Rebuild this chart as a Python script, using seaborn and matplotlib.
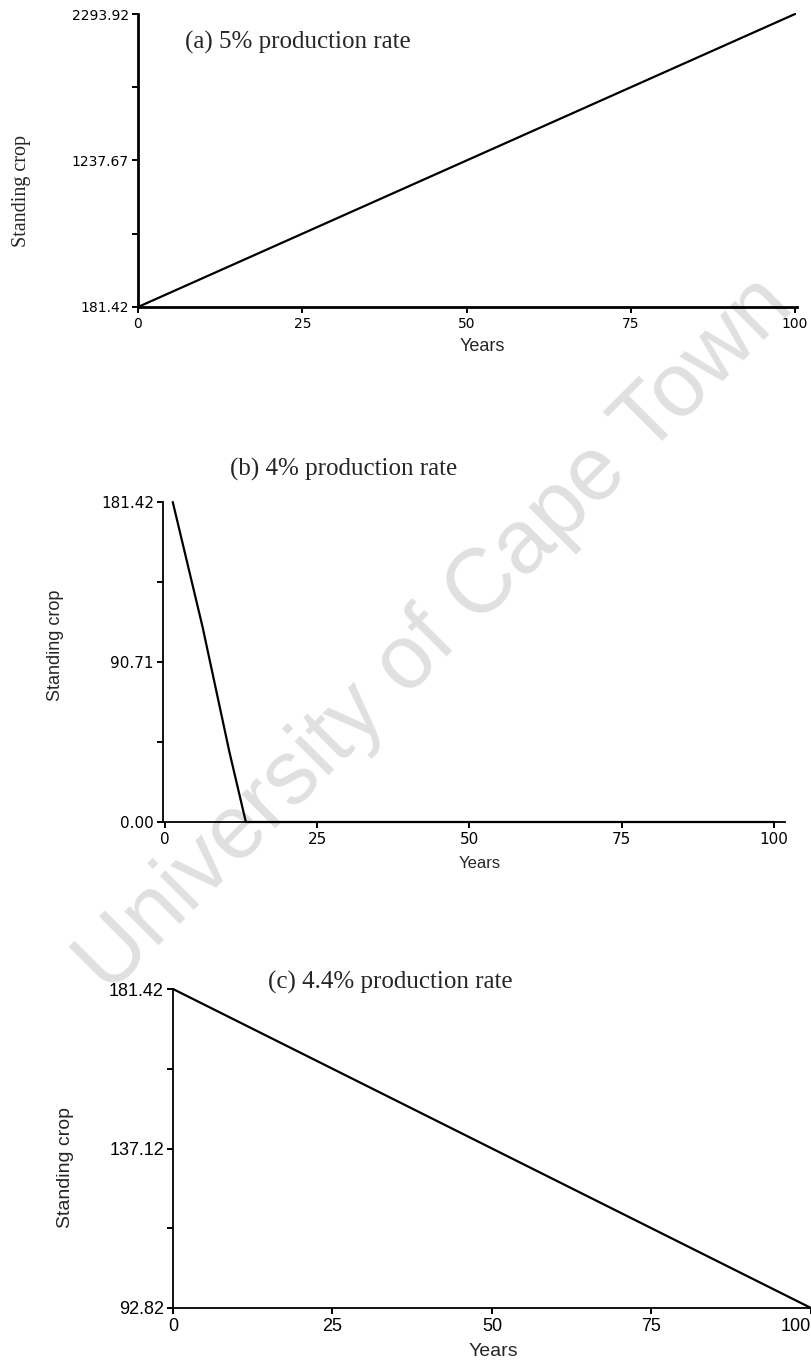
import matplotlib
matplotlib.use("Agg")
import matplotlib.pyplot as plt
import pandas as pd
import seaborn as sns

# Standing crop simulations for three production rates
years_a = [0, 25, 50, 75, 100]
crop_a = [181.42, 709.54, 1237.67, 1765.79, 2293.92]

years_b = [1.3, 6.2, 10.6, 13.3, 25, 50, 75, 100]
crop_b = [181.42, 110.5, 39.7, 0.0, 0.0, 0.0, 0.0, 0.0]

years_c = [0, 25, 50, 75, 100]
crop_c = [181.42, 159.27, 137.12, 114.97, 92.82]

xticks = [0, 25, 50, 75, 100]
yticks_a = [181.42, 1237.67, 2293.92]
yminor_a = [709.54, 1765.79]
ylabels_a = ["181.42", "1237.67", "2293.92"]
yticks_b = [0.0, 90.71, 181.42]
yminor_b = [45.355, 136.065]
ylabels_b = ["0.00", "90.71", "181.42"]
yticks_c = [92.82, 137.12, 181.42]
yminor_c = [114.97, 159.27]
ylabels_c = ["92.82", "137.12", "181.42"]

titles = ["(a) 5% production rate", "(b) 4% production rate", "(c) 4.4% production rate"]

sns.set_style("ticks")
SANS = ["Liberation Sans", "DejaVu Sans"]
WIDE = ["DejaVu Sans"]
SERIF = ["Liberation Serif", "DejaVu Serif"]
plt.rcParams["font.family"] = SANS

W, H = 812, 1368
fig = plt.figure(figsize=(W / 100, H / 100), dpi=100)


def box(left, top, right, bottom):
    return [left / W, 1 - bottom / H, (right - left) / W, (bottom - top) / H]


def fx(px):
    return px / W


def fy(py):
    return 1 - py / H


# faint diagonal watermark behind the panels
fig.text(fx(435), fy(635), "University of Cape Town", rotation=45,
         rotation_mode="anchor", ha="center", va="center", fontsize=65,
         color="#e0e0e0", family=SANS, zorder=-5)

panels = [
    dict(x=years_a, y=crop_a, rect=(138, 14, 797, 307), xlim=(0, 100.3),
         ylim=(181.42, 2293.92), yt=yticks_a, ym=yminor_a, yl=ylabels_a,
         spine=2.0, tick_fs=10, tick_family=WIDE, title_xy=(185, 42),
         ylab_xy=(22, 191), ylab_family=SERIF, ylab_fs=14.5,
         years_xy=(482, 346), years_fs=13),
    dict(x=years_b, y=crop_b, rect=(163, 502, 785, 822), xlim=(-0.3, 101.8),
         ylim=(0.0, 181.42), yt=yticks_b, ym=yminor_b, yl=ylabels_b,
         spine=1.3, tick_fs=11, tick_family=WIDE, title_xy=(230, 469),
         ylab_xy=(56, 645), ylab_family=SANS, ylab_fs=13,
         years_xy=(480, 863), years_fs=12),
    dict(x=years_c, y=crop_c, rect=(173, 989, 811, 1308), xlim=(0, 100),
         ylim=(92.82, 181.42), yt=yticks_c, ym=yminor_c, yl=ylabels_c,
         spine=1.3, tick_fs=13, tick_family=SANS, title_xy=(268, 982),
         ylab_xy=(66, 1168), ylab_family=SANS, ylab_fs=14,
         years_xy=(493, 1352), years_fs=14),
]

for p, title in zip(panels, titles):
    ax = fig.add_axes(box(*p["rect"]))
    ax.set_facecolor("none")
    df = pd.DataFrame({"Years": p["x"], "Standing crop": p["y"]})
    sns.lineplot(data=df, x="Years", y="Standing crop", ax=ax,
                 color="black", linewidth=1.6)
    for ln in ax.lines:
        ln.set_clip_on(False)
    sns.despine(ax=ax)
    for side in ("left", "bottom"):
        ax.spines[side].set_linewidth(p["spine"])
        ax.spines[side].set_color("black")
    ax.set_xlim(*p["xlim"])
    ax.set_ylim(*p["ylim"])
    ax.set_xticks(xticks)
    ax.set_xticklabels([str(t) for t in xticks], fontsize=p["tick_fs"],
                       family=p["tick_family"])
    ax.set_yticks(p["yt"])
    ax.set_yticklabels(p["yl"], fontsize=p["tick_fs"], family=p["tick_family"])
    ax.set_yticks(p["ym"], minor=True)
    ax.tick_params(which="both", direction="out", length=4.5, width=1.4,
                   color="black", labelcolor="black")
    ax.tick_params(axis="y", which="both", pad=2)
    ax.tick_params(axis="x", which="both", pad=3)
    ax.set_xlabel("")
    ax.set_ylabel("")
    # keep the right-most year label inside the figure edge
    last = ax.get_xticklabels()[-1]
    if p["rect"][2] > W - 10:
        last.set_horizontalalignment("right")

    fig.text(fx(p["title_xy"][0]), fy(p["title_xy"][1]), title,
             ha="left", va="center", fontsize=18, family=SERIF)
    fig.text(fx(p["ylab_xy"][0]), fy(p["ylab_xy"][1]), "Standing crop",
             rotation=90, ha="center", va="center", fontsize=p["ylab_fs"],
             family=p["ylab_family"])
    fig.text(fx(p["years_xy"][0]), fy(p["years_xy"][1]), "Years",
             ha="center", va="center", fontsize=p["years_fs"], family=SANS)

fig.savefig("out.png", dpi=100, facecolor="white")
